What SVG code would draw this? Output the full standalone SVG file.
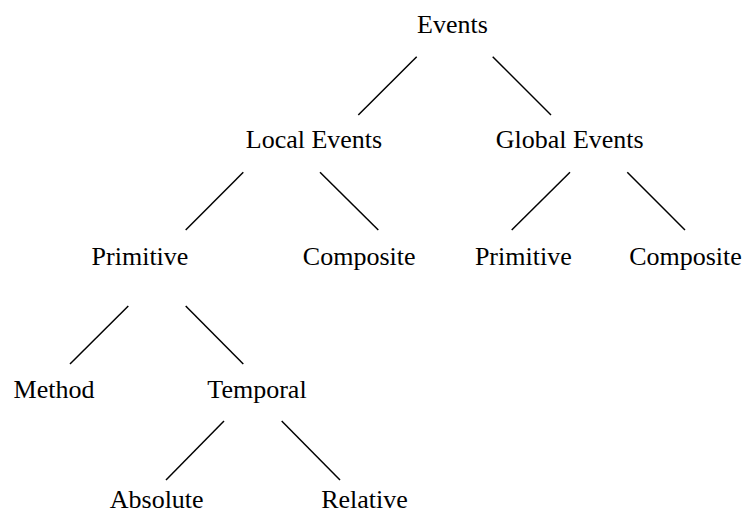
<svg xmlns="http://www.w3.org/2000/svg" width="743" height="514" viewBox="0 0 743 514">
<style>
text{font-family:"Liberation Serif","Times New Roman",serif;font-size:26px;fill:#000;text-anchor:middle}
.c line{stroke:#000;stroke-width:1.5}
</style>
<rect width="743" height="514" fill="#fff"/>
<g id="connectors" class="c">
<line x1="416.7" y1="56.7" x2="358.3" y2="115"/>
<line x1="492.7" y1="56.7" x2="551" y2="115"/>
<line x1="243.3" y1="172.3" x2="185.7" y2="230"/>
<line x1="320" y1="172.3" x2="378.3" y2="230"/>
<line x1="570" y1="172.3" x2="511.7" y2="230"/>
<line x1="627.3" y1="172.3" x2="685" y2="230"/>
<line x1="128.3" y1="306" x2="70" y2="364"/>
<line x1="185.7" y1="306" x2="243.3" y2="364"/>
<line x1="224" y1="421" x2="166" y2="480"/>
<line x1="281.7" y1="421" x2="340" y2="480"/>
</g>
<g id="events"><text x="452.4" y="33">Events</text></g>
<g id="local-events"><text x="314" y="148">Local Events</text></g>
<g id="global-events"><text x="569.7" y="148">Global Events</text></g>
<g id="local-primitive"><text x="140" y="265">Primitive</text></g>
<g id="local-composite"><text x="359.2" y="265">Composite</text></g>
<g id="global-primitive"><text x="523.3" y="265">Primitive</text></g>
<g id="global-composite"><text x="685.5" y="265">Composite</text></g>
<g id="method"><text x="54" y="398">Method</text></g>
<g id="temporal"><text x="257" y="398">Temporal</text></g>
<g id="absolute"><text x="156.7" y="508">Absolute</text></g>
<g id="relative"><text x="364.5" y="508">Relative</text></g>
</svg>
